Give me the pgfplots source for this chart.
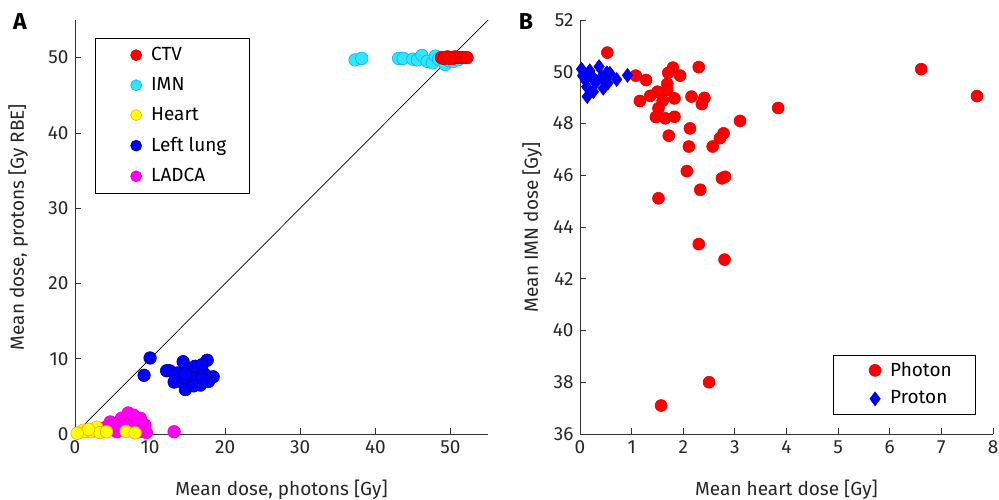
\documentclass[border=0pt]{standalone}
\usepackage{fontspec}
\setmainfont{Fira Sans}
\usepackage{pgfplots}
\pgfplotsset{compat=1.18}
\definecolor{axgray}{gray}{0.2}
\definecolor{ctvfill}{rgb}{1,0,0}
\definecolor{ctvedge}{rgb}{0.8,0,0}
\definecolor{imnfill}{rgb}{0.2,0.9,1}
\definecolor{imnedge}{rgb}{0,0.7,1}
\definecolor{heartfill}{rgb}{1,1,0}
\definecolor{heartedge}{rgb}{1,0.65,0}
\definecolor{lungfill}{rgb}{0,0,1}
\definecolor{lungedge}{rgb}{0,0,0.6}
\definecolor{ladfill}{rgb}{1,0,1}
\definecolor{ladedge}{rgb}{0.95,0,0.7}
\newcommand{\ff}{\fontsize{19bp}{22bp}\selectfont}
\begin{document}
\ff
\begin{tikzpicture}
\useasboundingbox (0bp,0bp) rectangle (999bp,500bp);
\pgfplotsset{
  myaxis/.style={
    anchor=south west, scale only axis, width=413bp, height=414bp,
    axis x line*=bottom, axis y line*=left,
    axis line style={-,axgray,line width=0.8bp},
    tick style={axgray,line width=0.8bp},
    tick align=inside, major tick length=6bp,
    ticklabel style={font=\ff, text=black!85},
    label style={font=\ff, text=black!85},
    /pgf/number format/assume math mode=true,
    clip=false,
    legend image code/.code={\path[draw=none,fill=none] (-20bp,0bp) -- (13bp,0bp); \draw[mark repeat=1,#1] plot coordinates {(0bp,0bp)};},
  },
}
\node[font=\fontsize{23bp}{25bp}\selectfont\bfseries] at (20bp,478bp) {A};
\node[font=\fontsize{23bp}{25bp}\selectfont\bfseries] at (526bp,478bp) {B};
\begin{axis}[myaxis, at={(75bp,66bp)},
  xmin=0, xmax=55, ymin=0, ymax=55,
  xtick={0,10,20,30,40,50}, ytick={0,10,20,30,40,50},
  xlabel={Mean dose, photons [Gy]},
  ylabel={Mean dose, protons [Gy RBE]},
  xlabel style={yshift=-13bp}, ylabel style={yshift=7bp},
  legend style={at={(0.048,0.957)}, anchor=north west, draw=black, fill=white,
    line width=0.6bp, font=\ff,
    row sep=10bp, inner xsep=21bp, inner ysep=7bp},
  legend cell align=left,
]
\addlegendimage{only marks, mark=*, mark size=5.5bp, fill=ctvfill, draw=ctvedge}
\addlegendentry{CTV}
\addlegendimage{only marks, mark=*, mark size=5.5bp, fill=imnfill, draw=imnedge}
\addlegendentry{IMN}
\addlegendimage{only marks, mark=*, mark size=5.5bp, fill=heartfill, draw=heartedge}
\addlegendentry{Heart}
\addlegendimage{only marks, mark=*, mark size=5.5bp, fill=lungfill, draw=lungedge}
\addlegendentry{Left lung}
\addlegendimage{only marks, mark=*, mark size=5.5bp, fill=ladfill, draw=ladedge}
\addlegendentry{LADCA}
\addplot[black, line width=0.7bp, forget plot] coordinates {(0,0) (55,55)};
% IMN
\addplot[only marks, mark=*, mark size=6.3bp, mark options={fill=imnfill, draw=imnedge, line width=0.6bp}, forget plot] coordinates {
(37.3,49.7) (38.2,49.9) (43.1,49.9) (43.7,49.9) (45.0,49.8) (45.6,49.7) (46.2,50.3) (46.9,49.5) (47.6,49.3) (48.0,50.2) (48.4,49.8) (49.3,49.1) (49.8,49.6) (50.4,49.5) (51.0,49.7) (49.0,49.9)};
% CTV
\addplot[only marks, mark=*, mark size=6.3bp, mark options={fill=ctvfill, draw=ctvedge, line width=0.6bp}, forget plot] coordinates {
(48.8,50.0) (49.2,49.9) (49.6,50.1) (50.0,50.0) (50.3,49.9) (50.6,50.1) (51.0,50.0) (51.4,50.0) (51.8,50.0) (52.2,50.0) (49.9,49.9)};
% LADCA
\addplot[only marks, mark=*, mark size=6.3bp, mark options={fill=ladfill, draw=ladedge, line width=0.6bp}, forget plot] coordinates {
(7.1,2.8) (4.7,1.6) (6.2,2.1) (7.6,1.9) (8.7,2.1) (9.3,1.2) (3.8,0.75) (5.3,0.5) (9.1,0.5) (13.2,0.3) (6.9,1.2) (8.2,1.0) (6.0,1.2) (7.8,2.5) (5.6,0.3) (4.3,1.0) (8.9,1.5) (7.3,0.6) (6.5,0.9) (9.5,0.2) (5.0,1.1) (8.5,0.3)};
% Heart
\addplot[only marks, mark=*, mark size=6.3bp, mark options={fill=heartfill, draw=heartedge, line width=0.6bp}, forget plot] coordinates {
(0.6,0.2) (1.1,0.5) (1.4,0.3) (2.2,0.3) (2.6,0.5) (2.9,0.9) (3.3,0.2) (4.2,0.3) (6.8,0.35) (8.0,0.15) (1.8,0.6) (0.3,0.1)};
% Left lung
\addplot[only marks, mark=*, mark size=6.3bp, mark options={fill=lungfill, draw=lungedge, line width=0.6bp}, forget plot] coordinates {
(10.0,10.1) (9.2,7.8) (12.2,8.4) (12.6,8.4) (14.4,9.6) (17.6,9.8) (14.0,7.0) (14.7,5.9) (16.2,7.6) (16.9,8.5) (18.4,7.6) (16.7,6.5) (17.8,7.0) (15.3,8.1) (16.0,9.0) (14.9,8.7) (13.6,8.1) (17.3,7.9) (15.6,7.0) (16.9,9.2) (14.7,8.0) (15.8,6.4) (17.0,7.3) (13.2,6.9)};
\end{axis}
\begin{axis}[myaxis, at={(580bp,66bp)},
  xmin=0, xmax=8, ymin=36, ymax=52,
  xtick={0,1,...,8}, ytick={36,38,...,52},
  xlabel={Mean heart dose [Gy]},
  ylabel={Mean IMN dose [Gy]},
  xlabel style={yshift=-13bp}, ylabel style={yshift=-2bp},
  legend style={at={(0.959,0.048)}, anchor=south east, draw=black, fill=white,
    line width=0.6bp, font=\ff,
    row sep=8bp, inner xsep=22bp, inner ysep=5bp},
  legend cell align=left,
]
\addplot[only marks, mark=*, mark size=6bp, mark options={fill=red, draw=red!85!black, line width=0.5bp}] coordinates {
(0.53,50.74) (1.08,49.85) (1.28,49.68) (1.80,50.16) (1.71,49.96) (1.94,49.85) (2.30,50.18) (1.69,49.53) (1.69,49.29) (1.50,49.23) (1.36,49.07) (1.16,48.87) (1.60,48.88) (1.83,48.97) (2.16,49.04) (2.41,48.99) (2.36,48.75) (1.52,48.59) (1.47,48.25) (1.65,48.20) (1.83,48.26) (3.10,48.10) (2.13,47.81) (1.72,47.53) (2.78,47.62) (2.71,47.43) (2.11,47.11) (2.57,47.11) (2.07,46.16) (2.75,45.88) (2.81,45.94) (2.33,45.44) (1.52,45.11) (2.30,43.34) (2.80,42.74) (3.84,48.60) (6.61,50.10) (7.69,49.06) (2.50,38.00) (1.57,37.10)};
\addlegendentry{Photon}
\addplot[only marks, mark=diamond*, mark size=7bp, mark options={fill=blue, draw=blue!80!black, line width=0.5bp}] coordinates {
(0.03,50.10) (0.19,50.04) (0.37,50.20) (0.52,49.96) (0.71,49.70) (0.92,49.86) (0.10,49.68) (0.29,49.60) (0.45,49.70) (0.54,49.56) (0.14,49.04) (0.26,49.23) (0.32,49.62) (0.19,49.94) (0.58,49.94) (0.42,49.81) (0.13,49.42) (0.45,49.36) (0.05,49.85) (0.24,49.80)};
\addlegendentry{Proton}
\end{axis}
\end{tikzpicture}
\end{document}
